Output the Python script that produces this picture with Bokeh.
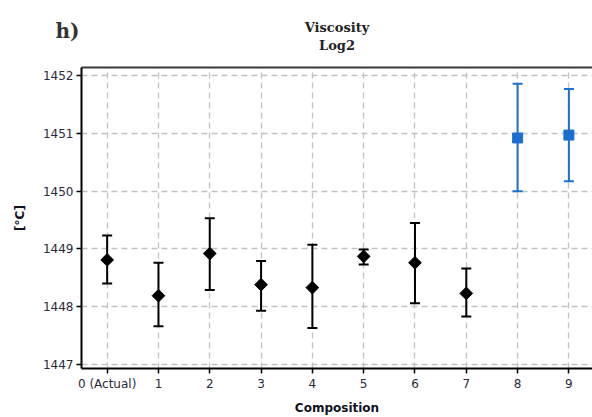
import math
from bokeh.plotting import figure
from bokeh.models import ColumnDataSource, Whisker, TeeHead, Range1d, FixedTicker, LinearAxis, Title
from bokeh.embed import file_html
from bokeh.resources import INLINE

# data
comp_black = [0, 1, 2, 3, 4, 5, 6, 7]
mean_black = [1448.81, 1448.19, 1448.92, 1448.38, 1448.33, 1448.87, 1448.76, 1448.23]
upper_black = [1449.23, 1448.76, 1449.53, 1448.79, 1449.07, 1448.99, 1449.45, 1448.66]
lower_black = [1448.40, 1447.66, 1448.29, 1447.93, 1447.63, 1448.73, 1448.06, 1447.83]

comp_blue = [8, 9]
mean_blue = [1450.92, 1450.97]
upper_blue = [1451.86, 1451.77]
lower_blue = [1450.00, 1450.17]

x_ticks = [0, 1, 2, 3, 4, 5, 6, 7, 8, 9]
x_tick_labels = ["0 (Actual)", "1", "2", "3", "4", "5", "6", "7", "8", "9"]
y_ticks = [1447, 1448, 1449, 1450, 1451, 1452]
title_main = "Viscosity"
title_sub = "Log2"
panel_letter = "h)"

blue = "#1c6fd1"
tick_font = "DejaVu Sans"

W, H = 592, 417
BL, BT, BB = 81, 67, 49

p = figure(width=W, height=H, output_backend="svg", toolbar_location=None, title=None,
           x_range=Range1d(-0.5, 9.46), y_range=Range1d(1446.93, 1452.14))
p.min_border_left = BL
p.min_border_right = 0
p.min_border_top = BT
p.min_border_bottom = BB
p.outline_line_color = None
p.background_fill_color = "white"
p.border_fill_color = "white"

# grid
p.xgrid.ticker = FixedTicker(ticks=x_ticks)
p.ygrid.ticker = FixedTicker(ticks=y_ticks)
for g in (p.xgrid, p.ygrid):
    g.grid_line_color = "#c2c2c2"
    g.grid_line_dash = "6 4"
    g.grid_line_width = 1.3

# axes
p.xaxis.ticker = FixedTicker(ticks=x_ticks)
p.xaxis.major_label_overrides = {t: l for t, l in zip(x_ticks, x_tick_labels)}
p.yaxis.ticker = FixedTicker(ticks=y_ticks)
for ax in (p.xaxis[0], p.yaxis[0]):
    ax.axis_line_color = "black"
    ax.axis_line_width = 2
    ax.major_tick_line_color = "black"
    ax.major_tick_line_width = 1.5
    ax.major_tick_out = 5
    ax.major_tick_in = 0
    ax.minor_tick_line_color = None
    ax.major_label_text_font = tick_font
    ax.major_label_text_font_size = "12px"
    ax.major_label_text_color = "#2a2a3a"
    ax.axis_label_text_font = tick_font
    ax.axis_label_text_font_size = "12px"
    ax.axis_label_text_font_style = "bold"
    ax.axis_label_text_color = "#111122"
p.xaxis.axis_label = "Composition"
p.xaxis.major_label_standoff = 3
p.xaxis.axis_label_standoff = 7
p.yaxis.axis_label = "[°C]"
p.yaxis.major_label_standoff = 3
p.yaxis.axis_label_standoff = 13

# top border line
top = LinearAxis(ticker=FixedTicker(ticks=[]), major_label_text_font_size="0px",
                 axis_line_color="#3a3a3a", axis_line_width=2,
                 major_tick_line_color=None, minor_tick_line_color=None)
p.add_layout(top, "above")

# titles (stacked outward from the frame)
sub = Title(text=title_sub, align="center", text_font="DejaVu Serif",
            text_font_style="bold", text_font_size="13px", text_color="#222222",
            standoff=29)
p.add_layout(sub, "above")
main = Title(text=title_main, align="center", text_font="DejaVu Serif",
             text_font_style="bold", text_font_size="13px", text_color="#222222")
letter = Title(text=panel_letter, align="left", text_font="DejaVu Serif",
               text_font_style="bold", text_font_size="20px", text_color="#333333",
               offset=-26)
try:
    main.standoff = -26
    letter.standoff = -42
except Exception:
    main.standoff = 0
    letter.standoff = 0
p.add_layout(main, "above")
p.add_layout(letter, "above")

# black series
src_b = ColumnDataSource(dict(x=comp_black, y=mean_black, up=upper_black, lo=lower_black))
wb = Whisker(base="x", upper="up", lower="lo", source=src_b, dimension="height",
             line_color="black", line_width=2,
             upper_head=TeeHead(size=10, line_color="black", line_width=2),
             lower_head=TeeHead(size=10, line_color="black", line_width=2))
p.add_layout(wb)
p.scatter("x", "y", source=src_b, marker="square", angle=math.pi / 4, size=9,
          fill_color="black", line_color="black")

# blue series
src_u = ColumnDataSource(dict(x=comp_blue, y=mean_blue, up=upper_blue, lo=lower_blue))
wu = Whisker(base="x", upper="up", lower="lo", source=src_u, dimension="height",
             line_color=blue, line_width=2,
             upper_head=TeeHead(size=10, line_color=blue, line_width=2),
             lower_head=TeeHead(size=10, line_color=blue, line_width=2))
p.add_layout(wu)
p.scatter("x", "y", source=src_u, marker="square", size=10, fill_color=blue, line_color=blue)

open("out.html", "w").write(file_html(p, INLINE))
